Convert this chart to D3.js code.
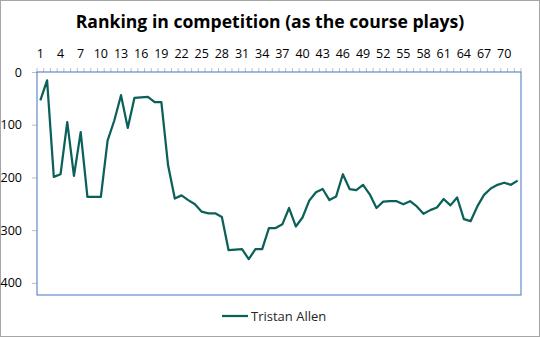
<!DOCTYPE html>
<html>
<head>
<meta charset="utf-8">
<script src="https://cdn.jsdelivr.net/npm/d3@7"></script>
<style>
  body { margin: 0; background: #fff; }
  text { font-family: "Open Sans", "Noto Sans", sans-serif; }
</style>
</head>
<body>
<script>
// rounds 1..72 and the ranking after each
const rounds = d3.range(1, 73);
const ranking = [54, 16, 199, 194, 95, 197, 114, 237, 237, 237,
  130, 92, 44, 106, 49, 48, 47, 57, 57, 177,
  240, 234, 243, 251, 265, 268, 268, 275, 338, 337,
  336, 355, 336, 336, 296, 296, 289, 258, 293, 276,
  244, 228, 222, 243, 236, 194, 222, 224, 214, 232,
  258, 246, 245, 245, 251, 245, 255, 269, 262, 257,
  241, 253, 238, 279, 283, 255, 233, 221, 214, 210,
  214, 206];
const yTicks = [0, 100, 200, 300, 400];
const seriesName = "Tristan Allen";

const W = 540, H = 337;
const margin = { top: 72, right: 19, bottom: 42, left: 37 };

const svg = d3.select("body").append("svg")
  .attr("width", W)
  .attr("height", H);

// outer chart border
svg.append("rect")
  .attr("x", 0.5).attr("y", 0.5)
  .attr("width", W - 1).attr("height", H - 1)
  .attr("fill", "#fff")
  .attr("stroke", "#a6a6a6");

const x = d3.scaleBand().domain(rounds).range([margin.left, W - margin.right]);
const y = d3.scaleLinear().domain([0, 423]).range([margin.top, H - margin.bottom]);

// title
svg.append("text")
  .attr("x", W / 2)
  .attr("y", 28)
  .attr("text-anchor", "middle")
  .style("font-size", "17.6px")
  .style("font-weight", "bold")
  .attr("fill", "#000")
  .text("Ranking in competition (as the course plays)");

// y axis (left)
const yAxis = svg.append("g")
  .attr("transform", "translate(" + margin.left + ",0)")
  .call(d3.axisLeft(y).tickValues(yTicks).tickSize(5).tickPadding(10));
yAxis.select(".domain").remove();
yAxis.selectAll("line").attr("stroke", "#bfbfbf");
yAxis.selectAll("text")
  .style("font-size", "12.5px")
  .attr("fill", "#000");

// x axis on top, label every 3rd round
const xAxis = svg.append("g")
  .attr("transform", "translate(0," + margin.top + ")")
  .call(d3.axisTop(x)
    .tickValues(rounds.filter(d => (d - 1) % 3 === 0))
    .tickSize(0)
    .tickPadding(14));
xAxis.select(".domain").remove();
xAxis.selectAll("text")
  .style("font-size", "12.5px")
  .attr("fill", "#000");

// minor ticks at category boundaries
svg.append("g")
  .selectAll("line")
  .data(rounds.concat([73]))
  .enter()
  .append("line")
  .attr("x1", d => d <= 72 ? x(d) : x(72) + x.bandwidth())
  .attr("x2", d => d <= 72 ? x(d) : x(72) + x.bandwidth())
  .attr("y1", margin.top - 4)
  .attr("y2", margin.top)
  .attr("stroke", "#bfbfbf");

// plot area border
svg.append("rect")
  .attr("x", margin.left)
  .attr("y", margin.top)
  .attr("width", W - margin.left - margin.right)
  .attr("height", H - margin.top - margin.bottom)
  .attr("fill", "none")
  .attr("stroke", "#4472c4");

// the line
const line = d3.line()
  .x((d, i) => x(rounds[i]) + x.bandwidth() / 2)
  .y(d => y(d));

svg.append("path")
  .datum(ranking)
  .attr("d", line)
  .attr("fill", "none")
  .attr("stroke", "#0b6159")
  .attr("stroke-width", 2.25)
  .attr("stroke-linejoin", "round");

// legend
const legendY = 316;
svg.append("line")
  .attr("x1", 222).attr("x2", 248)
  .attr("y1", legendY).attr("y2", legendY)
  .attr("stroke", "#0b6159")
  .attr("stroke-width", 2.25);
svg.append("text")
  .attr("x", 251)
  .attr("y", legendY + 4.5)
  .style("font-size", "13px")
  .attr("fill", "#262626")
  .text(seriesName);
</script>
</body>
</html>
